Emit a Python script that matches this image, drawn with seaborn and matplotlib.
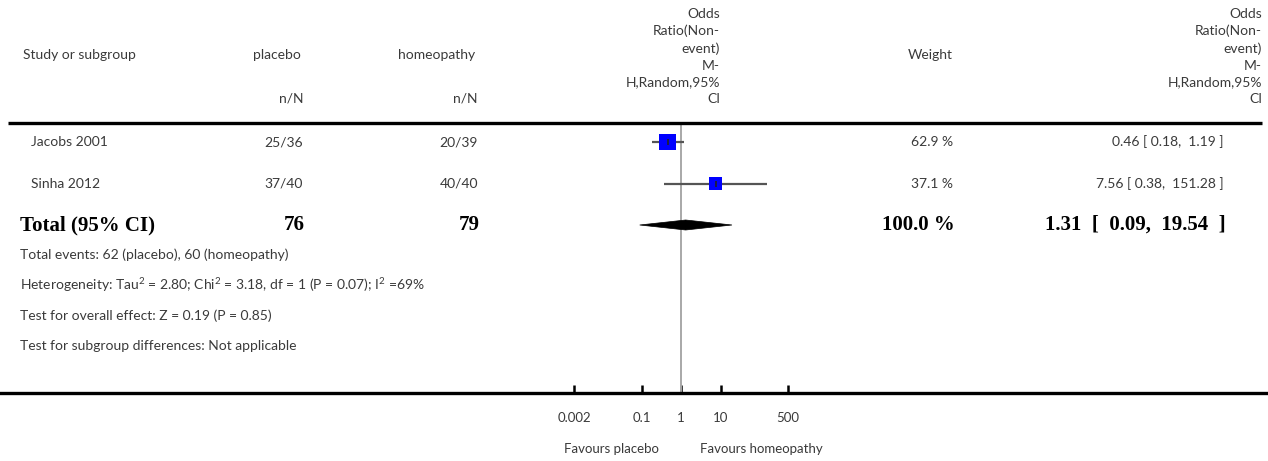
import numpy as np
import pandas as pd
import matplotlib.pyplot as plt
import seaborn as sns
from matplotlib.patches import Polygon
from matplotlib.transforms import blended_transform_factory

## data
studies = ['Jacobs 2001', 'Sinha 2012']
placebo_nN = ['25/36', '37/40']
homeo_nN = ['20/39', '40/40']
or_est = [0.46, 7.56]
or_lo = [0.18, 0.38]
or_hi = [1.19, 151.28]
weights = [62.9, 37.1]

total_placebo = 76
total_homeo = 79
total_weight = 100.0
total_or = 1.31
total_lo = 0.09
total_hi = 19.54

footer_lines = [
    'Total events: 62 (placebo), 60 (homeopathy)',
    'Heterogeneity: Tau$^{2}$ = 2.80; Chi$^{2}$ = 3.18, df = 1 (P = 0.07); I$^{2}$ =69%',
    'Test for overall effect: Z = 0.19 (P = 0.85)',
    'Test for subgroup differences: Not applicable',
]
xticks = [0.002, 0.1, 1, 10, 500]
xtick_labels = ['0.002', '0.1', '1', '10', '500']
or_header = 'Odds\nRatio(Non-\nevent)\nM-\nH,Random,95%\nCI'

sns.set_style('white')
plt.rcParams['font.family'] = ['Lato', 'DejaVu Sans']
plt.rcParams['mathtext.fontset'] = 'custom'
plt.rcParams['mathtext.rm'] = 'Lato'
plt.rcParams['mathtext.default'] = 'regular'

W, H = 1268, 461
fig = plt.figure(figsize=(W / 100, H / 100), dpi=100)
axis_y = 393
ax = fig.add_axes([0, 1 - axis_y / H, 1, axis_y / H])
ax.set_xscale('log')
dec = 39.5   # px per decade
x_one = 681  # px where OR = 1
ax.set_xlim(10 ** (-x_one / dec), 10 ** ((W - x_one) / dec))
ax.set_ylim(axis_y, 0)  # y in px from top
tr = blended_transform_factory(ax.transAxes, ax.transData)

def px(x):
    return x / W

grey = '#3a3a3a'
reg = dict(fontsize=10, color=grey)
bold = dict(fontsize=15, fontweight='bold', family='Liberation Serif', color='black')

## header
head_y, nN_y = 55, 98
ax.text(px(23), head_y, 'Study or subgroup', transform=tr, ha='left', va='center', **reg)
ax.text(px(277), head_y, 'placebo', transform=tr, ha='center', va='center', **reg)
ax.text(px(437), head_y, 'homeopathy', transform=tr, ha='center', va='center', **reg)
ax.text(px(930), head_y, 'Weight', transform=tr, ha='center', va='center', **reg)
ax.text(px(303), nN_y, 'n/N', transform=tr, ha='right', va='center', **reg)
ax.text(px(478), nN_y, 'n/N', transform=tr, ha='right', va='center', **reg)
for xr in [720, 1262]:
    ax.text(px(xr), nN_y + 7, or_header, transform=tr, ha='right', va='bottom',
            multialignment='right', linespacing=1.47, **reg)

## top rule
rule_y = 123
ax.plot([px(8), px(1262)], [rule_y, rule_y], transform=tr, color='black', lw=2.4,
        solid_capstyle='butt', clip_on=False)

## study rows
row0, gap = 142, 41.5
rows = [row0 + i * gap for i in range(len(studies))]
total_y = row0 + len(studies) * gap

df = pd.DataFrame({'study': studies, 'est': or_est, 'lo': or_lo, 'hi': or_hi,
                   'w': weights, 'y': rows})

ax.vlines(1, rule_y, axis_y, color='#a8a8a8', lw=1.4, zorder=1)
ax.hlines(df['y'], df['lo'], df['hi'], color='#555555', lw=1.6, zorder=2)
side_px = 2.08 * np.sqrt(df['w'])
sns.scatterplot(data=df, x='est', y='y', marker='s', s=(side_px * 0.72) ** 2,
                color='#0000ff', edgecolor='none', linewidth=0, legend=False,
                ax=ax, zorder=3)
ax.plot(df['est'], df['y'], linestyle='none', marker='|', color='#222222',
        markersize=5, mew=1.2, zorder=4)

for i, r in df.iterrows():
    ax.text(px(31), r['y'], r['study'], transform=tr, ha='left', va='center', **reg)
    ax.text(px(303), r['y'], placebo_nN[i], transform=tr, ha='right', va='center', **reg)
    ax.text(px(478), r['y'], homeo_nN[i], transform=tr, ha='right', va='center', **reg)
    ax.text(px(953), r['y'], f"{r['w']:.1f} %", transform=tr, ha='right', va='center', **reg)
    ax.text(px(1224), r['y'], f"{r['est']:.2f} [ {r['lo']:.2f},  {r['hi']:.2f} ]",
            transform=tr, ha='right', va='center', **reg)

## total row
diamond = Polygon([(total_lo, total_y), (total_or, total_y - 5),
                   (total_hi, total_y), (total_or, total_y + 5)],
                  closed=True, facecolor='black', edgecolor='black', lw=0.5, zorder=3)
ax.add_patch(diamond)
ax.text(px(20), total_y, 'Total (95% CI)', transform=tr, ha='left', va='center', **bold)
ax.text(px(305), total_y, str(total_placebo), transform=tr, ha='right', va='center', **bold)
ax.text(px(480), total_y, str(total_homeo), transform=tr, ha='right', va='center', **bold)
ax.text(px(955), total_y, f'{total_weight:.1f} %', transform=tr, ha='right', va='center', **bold)
ax.text(px(1226), total_y, f'{total_or:.2f}  [  {total_lo:.2f},  {total_hi:.2f}  ]',
        transform=tr, ha='right', va='center', **bold)

## footer text
foot0, foot_gap = 255, 30.3
for i, line in enumerate(footer_lines):
    ax.text(px(20), foot0 + i * foot_gap, line, transform=tr, ha='left', va='center', **reg)

## axis
for s in ['top', 'left', 'right']:
    ax.spines[s].set_visible(False)
ax.spines['bottom'].set_linewidth(2.4)
ax.spines['bottom'].set_color('black')
ax.set_xticks(xticks)
ax.set_xticklabels(xtick_labels)
ax.minorticks_off()
ax.set_yticks([])
ax.tick_params(axis='x', bottom=True, direction='in', length=6, width=1.8, color='black',
               pad=14, labelsize=9.5, labelcolor=grey)
ax.set_xlabel('')
ax.set_ylabel('')

ax.annotate('Favours placebo', xy=(1, 449), xytext=(-16, 0), textcoords='offset points',
            ha='right', va='center', fontsize=9.5, color=grey, annotation_clip=False)
ax.annotate('Favours homeopathy', xy=(1, 449), xytext=(14, 0), textcoords='offset points',
            ha='left', va='center', fontsize=9.5, color=grey, annotation_clip=False)

fig.savefig('out.png', dpi=100)
